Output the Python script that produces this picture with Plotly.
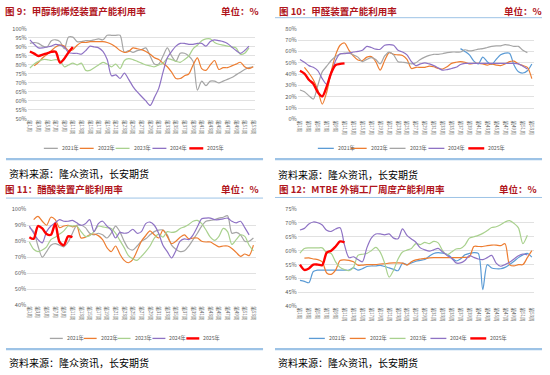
import plotly.graph_objects as go

W, H = 550, 375
FONT = "Noto Sans CJK SC"

weeks = list(range(1, 54))
tick_weeks = list(range(1, 54, 2))
tick_text = [f"第{w}周" for w in tick_weeks]
years = ["2021年", "2022年", "2023年", "2024年", "2025年"]

# ---------- 图9 甲醇制烯烃装置产能利用率 (%) ----------
mto_2021 = [92, 92.5, 92, 90.5, 90, 93.5, 94, 93, 89, 95.5, 95.5, 93, 93, 93.5, 93.5, 94, 94.5, 94, 96.5, 96.5,
            96.5, 96.5, 87, 88, 87, 88, 88.5, 89.5, 85, 80.5, 80.5, 85, 89.5, 85, 82, 86.5, 86.5, 85, 82, 66,
            71, 68.5, 71, 71, 70, 71, 72, 73, 74.5, 76, 77.5, 78.5, 79]
mto_2022 = [None, 79.5, 81.5, 84, 86, 88, 90, 91, 90.5, 88, 88.5, 91, 92.5, 92.5, 93, 93, 93, 93, 92.5, 91.5,
            90, 88, 87, 87.5, 89.5, 89, 88.5, 87.5, 86, 84, 83, 81, 79, 76, 72.5, 72.5, 74, 75, 80, 84,
            78, 77, 80, 82.5, 77.5, 78.5, 78.5, 79.5, 80.5, 81.5, 79, 78, 79]
mto_2023 = [78.3, 80.5, 82, 83, 83, 82.5, 83, 82.5, 79, 80, 81, 80, 81, 77, 77, 78.5, 80, 81.5, 80.5, 79,
            80.5, 78, 82.5, 83.5, 83, 82, 81, 80, 79.5, 79, 80, 81, 83.5, 83, 82, 81.5, 83, 85, 89, 91,
            93.5, 94.5, 94.5, 92.5, 91.5, 91, 90.5, 90, 89.5, 86, 86.5, 89.5]
mto_2024 = [94, 91.5, 89.5, 89.5, 90, 90.5, 91.5, 91, 90, 87, 86.5, 86.5, 86, 88, 90.5, 90, 89.5, 87.5, 83, 74,
            74.5, 72.5, 75.5, 72, 68, 65, 62.5, 60, 57.5, 62, 67, 76, 84, 87.5, 90.5, 92, 92, 91.5, 91.5, 92,
            92, 90.5, 93, 94, 93.5, 93, 92, 90, 88, 86.5, 88, 90.5]
mto_2025 = [87.5, 86.3, 85, 85.8, 86.5, 87.3, 87.3, 81.3, 83.5, 87, 90]

# ---------- 图10 甲醛装置产能利用率 (%) ----------
hcho_2021 = [None] * 36 + [62.5, 60, 57, 51.5, 49, 55, 51, 48.5, 53, 57, 58.5, 58.5, 48, 42, 41, 43, 49]
hcho_2022 = [None, 46, 41, 35, 26, 13.5, 24, 42, 57, 65.5, 67.5, 61, 56, 52.5, 52, 55, 55.5, 51, 43.5, 52,
             59, 57.5, 57, 56.5, 53, 45, 46, 46, 46, 47, 46.5, 45, 44.5, 46.5, 49.5, 50.5, 51, 50.5, 49, 49.5,
             49.5, 49, 48, 49, 48, 47.5, 49, 51, 51.5, 49, 47.5, 46, 36]
hcho_2023 = [26, 24.5, 21, 18, 30, 42, 47, 52, 55.5, 57.5, 58.5, 58.5, 57, 55, 51, 53, 54.5, 53, 49, 56,
             59.5, 57, 51, 50.5, 50, 49, 50, 53, 55, 56.5, 57.5, 57.5, 58, 59, 59.5, 59.5, 59.5, 61.5, 60.5, 61,
             62, 62.5, 63.5, 64.5, 65, 65, 66, 65.5, 64.5, 64.5, 61, 59]
hcho_2024 = [53, 50.5, 47.5, 46, 43, 36, 31, 40, 52, 58, 58, 58.5, 59.5, 60, 61, 64.5, 63.5, 62, 62, 65.5,
             66, 65.5, 61, 59.5, 57, 51, 47.5, 49, 50, 49, 47.5, 45.5, 43.5, 44, 45, 46, 48.5, 49.5, 49.5, 49.5,
             49.5, 49.5, 49.5, 49.5, 49.5, 49.5, 49.5, 49.5, 49.5, 49, 47, 44.5]
hcho_2025 = [43, 40.5, 35, 31.5, 24, 20.3, 29, 41, 48, 49, 49.5]

# ---------- 图11 醋酸装置产能利用率 (%) ----------
hac_2021 = [88.5, 86, 77, 70, 73.5, 77.5, 78.5, 77.5, 76.5, 79.5, 85, 90, 90, 88.5, 85, 84, 85, 84, 82, 85,
            89.5, 86, 80, 75.5, 74.5, 77, 80, 81.5, 84, 86, 87, 87, 84, 77.5, 75, 73.5, 74, 77, 81, 85,
            89.5, 92.5, 93, 93.5, 94.5, 95, 96, 85, 85.5, 84, 80, 80, 82]
hac_2022 = [None, 93.5, 95.5, 92.5, 90, 95, 93.5, 88.5, 89.5, 90, 89, 89.5, 82, 82.5, 84, 84.5, 83.5, 81, 76, 73.5,
            77, 72, 68, 66.5, 68.5, 74, 80, 83.5, 86.5, 84, 82, 87, 83, 78.5, 80, 82.5, 84, 81.5, 82, 82,
            80, 79.5, 79.5, 78, 76.5, 77, 77, 75.5, 73, 70.5, 72, 71, 77.5]
hac_2023 = [79.5, 75, 73.5, 74.5, 76.5, 81, 82.5, 84.5, 86.5, 89.5, 89.5, 89.5, 86, 83, 83.5, 86, 89.5, 89, 88.5, 88,
            85, 80.5, 76, 71, 69, 68, 70.5, 73.5, 77, 82, 84.5, 82.5, 86, 85.5, 86, 88, 89, 90.5, 92.5, 93,
            91, 87, 82.5, 80.5, 83, 88, 86, 78, 81, 84, 83, 77.5, 74]
hac_2024 = [89.5, 85, 81, 79, 86, 89.5, 91.5, 93.5, 92.5, 92.5, 93, 91.5, 90, 91, 93.5, 86, 91, 92.5, 89.5, 87,
            82, 85.5, 85, 85.5, 87.5, 85, 86, 91, 92, 90, 85, 77.5, 73.5, 69.5, 74, 80, 81.5, 81, 84, 89,
            94, 94.5, 94.5, 93.5, 93.5, 94, 94.5, 92.5, 91.5, 92.5, 88.5, 84]
hac_2025 = [82.5, 81.5, 89.5, 88, 84.5, 84, 91, 79.5, 77.5, 83, 82.5]

# ---------- 图12 MTBE 外销工厂周度产能利用率 (%) ----------
mtbe_2021 = [49.3, 49, 48.5, 52.5, 53, 53, 53, 53, 53, 53, 53, 53, 53.8, 53, 53.5, 54.3, 54.5, 54.5, 54.7, 54.3,
             53.8, 53.3, 52.8, 55.5, 55, 55.6, 56.2, 56.5, 56.8, 58, 59, 59.3, 59.1, 58.7, 57.5, 56.3, 57, 58.5, 59, 59.3,
             59, 46, 55, 53.8, 53.5, 53.5, 54, 55, 56.2, 57.5, 58.5, 59, 57.7]
mtbe_2022 = [None, 57.3, 57.4, 57, 56.8, 56, 52, 51.5, 53, 56.5, 56.7, 56.5, 56, 54.8, 54.8, 55, 55, 55, 55.2, 55.3,
             55.5, 55.6, 55.6, 55.5, 54.8, 56, 56.7, 57, 57.2, 57.4, 57.5, 57.5, 57.5, 57.5, 57.5, 57.5, 57.5, 57.6, 57.7, 61.5,
             61.5, 61.5, 61.8, 62, 62, 61.8, 62.5, 55, 54.5, 55, 55, 57.5, 60]
mtbe_2023 = [59.1, 60.8, 61, 61, 61, 61, 59.3, 59, 56, 54, 53.2, 52.8, 54, 58.3, 58.7, 59, 60, 61.2, 59.5, 55.5,
             50.5, 53, 57, 59.5, 60.2, 60.8, 62.5, 62.2, 63, 62.5, 63.3, 62.8, 60, 58.5, 59.5, 60.6, 60.8, 62, 64.5, 65,
             65.5, 66.2, 67.2, 68.3, 68.6, 69.3, 70.3, 70.8, 69.8, 68.2, 62.5, 65.5]
mtbe_2024 = [67.4, 68, 69.6, 70.3, 70, 69.2, 67.3, 66.9, 67.8, 68.2, 62, 57.5, 57.8, 56.8, 56, 61, 64.5, 66, 66, 65.7,
             66, 64.5, 64.3, 67.8, 65.5, 64.2, 63, 61, 60.3, 59.8, 60.3, 60.8, 59.5, 58.3, 57.3, 55.6, 55.6, 56.5, 58.2, 57.6,
             57, 56.8, 57.5, 58.3, 55.5, 54.4, 55, 55.8, 57, 58.2, 58.8, 58.5]
mtbe_2025 = [55, 53.1, 53.6, 55, 55, 54.8, 59.3, 60, 61.5, 63.3, 63]

GRAY, ORANGE, GREEN, PURPLE, RED, BLUE = "#A5A5A5", "#ED7D31", "#A9D18E", "#8E72C4", "#FF0000", "#5B9BD5"
TITLE_C = "#B0151C"
TXT_C = "#595959"

panels = [
    dict(title="图 9：甲醇制烯烃装置产能利用率", series=[mto_2021, mto_2022, mto_2023, mto_2024, mto_2025],
         colors=[GRAY, ORANGE, GREEN, PURPLE, RED], xdom=(26.85, 255.3), ydom=(25.5, 117.5),
         yr=(50, 100), dtick=5, title_x=(2, 261), title_y=7.5,
         leg_x=[43, 79, 115, 152, 189], leg_y=147.5, leg_len=14, src_y=173, sep_y=158.5, side="L", underline=None),
    dict(title="图 10：甲醛装置产能利用率", series=[hcho_2021, hcho_2022, hcho_2023, hcho_2024, hcho_2025],
         colors=[BLUE, ORANGE, GRAY, PURPLE, RED], xdom=(297.8, 535.0), ydom=(25.3, 118.0),
         yr=(0, 80), dtick=10, title_x=(277, 545), title_y=7.5,
         leg_x=[318, 351, 390, 429, 469], leg_y=147.5, leg_len=16, src_y=174, sep_y=158.5, side="R", underline=14),
    dict(title="图 11：醋酸装置产能利用率", series=[hac_2021, hac_2022, hac_2023, hac_2024, hac_2025],
         colors=[GRAY, ORANGE, GREEN, PURPLE, RED], xdom=(26.3, 255.5), ydom=(209.7, 307.7),
         yr=(40, 100), dtick=10, title_x=(2, 261), title_y=189,
         leg_x=[49, 83, 117, 152, 186], leg_y=341.7, leg_len=13, src_y=366.5, sep_y=352.7, side="L", underline=198.3),
    dict(title="图 12：MTBE 外销工厂周度产能利用率", series=[mtbe_2021, mtbe_2022, mtbe_2023, mtbe_2024, mtbe_2025],
         colors=[BLUE, ORANGE, GREEN, PURPLE, RED], xdom=(297.8, 535.0), ydom=(209.3, 309.0),
         yr=(40, 75), dtick=5, title_x=(277, 540), title_y=189,
         leg_x=[309, 350, 390, 431, 471], leg_y=341.7, leg_len=16, src_y=366.5, sep_y=352.7, side="R", underline=197.7),
]


def px(x):
    return x / W


def py(y):
    return 1 - y / H


fig = go.Figure()
shapes, annotations = [], []
layout = {}

for i, p in enumerate(panels, start=1):
    xa = "x" if i == 1 else f"x{i}"
    ya = "y" if i == 1 else f"y{i}"
    for j, (vals, col) in enumerate(zip(p["series"], p["colors"])):
        is_cur = j == 4
        fig.add_trace(go.Scatter(
            x=weeks[:len(vals)], y=vals, mode="lines", xaxis=xa, yaxis=ya,
            line=dict(color=col, width=2.4 if is_cur else 1.2, shape="spline", smoothing=0.8),
            connectgaps=False, showlegend=False, hoverinfo="skip"))
    lo, hi = p["yr"]
    layout["xaxis" if i == 1 else f"xaxis{i}"] = dict(
        domain=[px(p["xdom"][0]), px(p["xdom"][1])], anchor=ya, range=[0.5, 53.5],
        tickmode="array", tickvals=tick_weeks, ticktext=tick_text, tickangle=90,
        tickfont=dict(size=4.6, color=TXT_C, family=FONT), showgrid=False, zeroline=False,
        showline=False, ticks="", fixedrange=True)
    layout["yaxis" if i == 1 else f"yaxis{i}"] = dict(
        domain=[py(p["ydom"][1]), py(p["ydom"][0])], anchor=xa,
        range=[lo - (hi - lo) * 0.0005, hi + (hi - lo) * 0.0005], tick0=lo, dtick=p["dtick"],
        ticksuffix="%", tickfont=dict(size=5.6, color=TXT_C, family=FONT), showgrid=True,
        gridcolor="#D9D9D9", gridwidth=0.8, zeroline=False, showline=False, ticks="", fixedrange=True)

    # title + unit
    annotations.append(dict(text=f"<b>{p['title']}</b>", x=px(p["title_x"][0]), y=py(p["title_y"]),
                            xref="paper", yref="paper", xanchor="left", yanchor="middle", showarrow=False,
                            font=dict(size=9.5, color=TITLE_C, family=FONT)))
    annotations.append(dict(text="<b>单位：%</b>", x=px(p["title_x"][1]), y=py(p["title_y"]),
                            xref="paper", yref="paper", xanchor="right", yanchor="middle", showarrow=False,
                            font=dict(size=9.5, color=TITLE_C, family=FONT)))
    x0, x1 = (5, 263) if p["side"] == "L" else (275, 543)
    if p["underline"] is not None:
        shapes.append(dict(type="line", xref="paper", yref="paper", x0=px(x0), x1=px(x1),
                           y0=py(p["underline"]), y1=py(p["underline"]), line=dict(color="#9DC3E6", width=1)))
    shapes.append(dict(type="line", xref="paper", yref="paper", x0=px(x0), x1=px(x1),
                       y0=py(p["sep_y"]), y1=py(p["sep_y"]), line=dict(color="#9DC3E6", width=2.2)))
    annotations.append(dict(text="资料来源：隆众资讯，长安期货", x=px(x0 + 1), y=py(p["src_y"]),
                            xref="paper", yref="paper", xanchor="left", yanchor="middle", showarrow=False,
                            font=dict(size=10, color="#000000", family=FONT)))
    # legend
    for j, (lx, col, yr_lbl) in enumerate(zip(p["leg_x"], p["colors"], years)):
        shapes.append(dict(type="line", xref="paper", yref="paper", x0=px(lx), x1=px(lx + p["leg_len"]),
                           y0=py(p["leg_y"]), y1=py(p["leg_y"]),
                           line=dict(color=col, width=2.4 if j == 4 else 1.3)))
        annotations.append(dict(text=yr_lbl, x=px(lx + p["leg_len"] + 2), y=py(p["leg_y"]),
                                xref="paper", yref="paper", xanchor="left", yanchor="middle", showarrow=False,
                                font=dict(size=5.2, color=TXT_C, family=FONT)))

fig.update_layout(
    width=W, height=H, margin=dict(l=0, r=0, t=0, b=0),
    paper_bgcolor="white", plot_bgcolor="white", showlegend=False,
    font=dict(family=FONT), shapes=shapes, annotations=annotations, **layout)

fig.write_html("out.html", config={"displayModeBar": False, "staticPlot": True},
               post_script="document.body.style.margin='0';document.body.style.overflow='hidden';")
